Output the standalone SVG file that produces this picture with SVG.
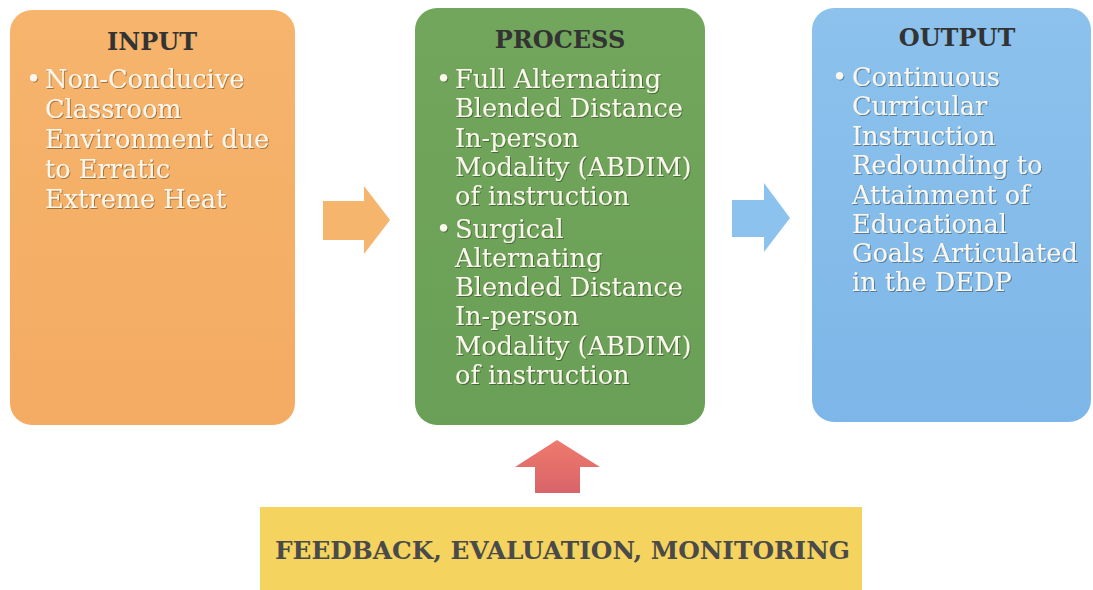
<svg xmlns="http://www.w3.org/2000/svg" width="1093" height="590" viewBox="0 0 1093 590">
<defs>
<linearGradient id="gIn" x1="0" y1="0" x2="0" y2="1"><stop offset="0" stop-color="#f6b46c"/><stop offset="1" stop-color="#f4ab63"/></linearGradient>
<linearGradient id="gPr" x1="0" y1="0" x2="0" y2="1"><stop offset="0" stop-color="#72a65c"/><stop offset="1" stop-color="#6a9f57"/></linearGradient>
<linearGradient id="gOut" x1="0" y1="0" x2="0" y2="1"><stop offset="0" stop-color="#8cc2ec"/><stop offset="1" stop-color="#7db6e8"/></linearGradient>
<linearGradient id="gUp" x1="0" y1="0" x2="0" y2="1"><stop offset="0" stop-color="#ee7a6c"/><stop offset="1" stop-color="#d9646a"/></linearGradient>
<filter id="sh" x="-5%" y="-5%" width="110%" height="120%"><feDropShadow dx="1" dy="1" stdDeviation="0.6" flood-color="#000" flood-opacity="0.35"/></filter>
<style>
.title{font-family:"DejaVu Serif","Liberation Serif",serif;font-weight:bold;font-size:24px;fill:#333;text-anchor:middle}
.body{font-family:"DejaVu Serif","Liberation Serif",serif;font-size:25.6px;fill:#fbf7ec;filter:url(#sh)}
.fb{font-family:"DejaVu Serif","Liberation Serif",serif;font-weight:bold;font-size:24px;fill:#4a4a4a}
</style>
</defs>
<rect width="1093" height="590" fill="#ffffff"/>
<g id="input">
<rect x="10" y="10" width="285" height="415" rx="22" fill="url(#gIn)"/>
<text class="title" x="152" y="50">INPUT</text>
<text class="body"><tspan x="26" y="88">•</tspan><tspan x="45" y="88">Non-Conducive</tspan><tspan x="45" y="118">Classroom</tspan><tspan x="45" y="148">Environment due</tspan><tspan x="45" y="178">to Erratic</tspan><tspan x="45" y="208">Extreme Heat</tspan></text>
</g>
<g id="process">
<rect x="415" y="8" width="290" height="417" rx="22" fill="url(#gPr)"/>
<text class="title" x="560" y="48">PROCESS</text>
<text class="body"><tspan x="436" y="88">•</tspan><tspan x="455" y="88">Full Alternating</tspan><tspan x="455" y="117">Blended Distance</tspan><tspan x="455" y="147">In-person</tspan><tspan x="455" y="176">Modality (ABDIM)</tspan><tspan x="455" y="205">of instruction</tspan><tspan x="436" y="238">•</tspan><tspan x="455" y="238">Surgical</tspan><tspan x="455" y="267">Alternating</tspan><tspan x="455" y="296">Blended Distance</tspan><tspan x="455" y="325">In-person</tspan><tspan x="455" y="355">Modality (ABDIM)</tspan><tspan x="455" y="384">of instruction</tspan></text>
</g>
<g id="output">
<rect x="812" y="8" width="279" height="414" rx="22" fill="url(#gOut)"/>
<text class="title" x="957" y="46">OUTPUT</text>
<text class="body"><tspan x="832" y="86">•</tspan><tspan x="852" y="86">Continuous</tspan><tspan x="852" y="115">Curricular</tspan><tspan x="852" y="145">Instruction</tspan><tspan x="852" y="174">Redounding to</tspan><tspan x="852" y="204">Attainment of</tspan><tspan x="852" y="233">Educational</tspan><tspan x="852" y="262">Goals Articulated</tspan><tspan x="852" y="291">in the DEDP</tspan></text>
</g>
<g id="feedback">
<rect x="260" y="507" width="602" height="85" fill="#f4d35e"/>
<text class="fb" x="275" y="559" textLength="575" lengthAdjust="spacingAndGlyphs">FEEDBACK, EVALUATION, MONITORING</text>
</g>
<g id="connectors">
<polygon points="323,201 364,201 364,186 390,220 364,254 364,240 323,240" fill="#f5b56c"/>
<polygon points="732,200 764,200 764,183 790,218 764,252 764,237 732,237" fill="#8cc3ee"/>
<polygon points="515,467 557,440 600,467 580,467 580,493 535,493 535,467" fill="url(#gUp)"/>
</g>
</svg>
